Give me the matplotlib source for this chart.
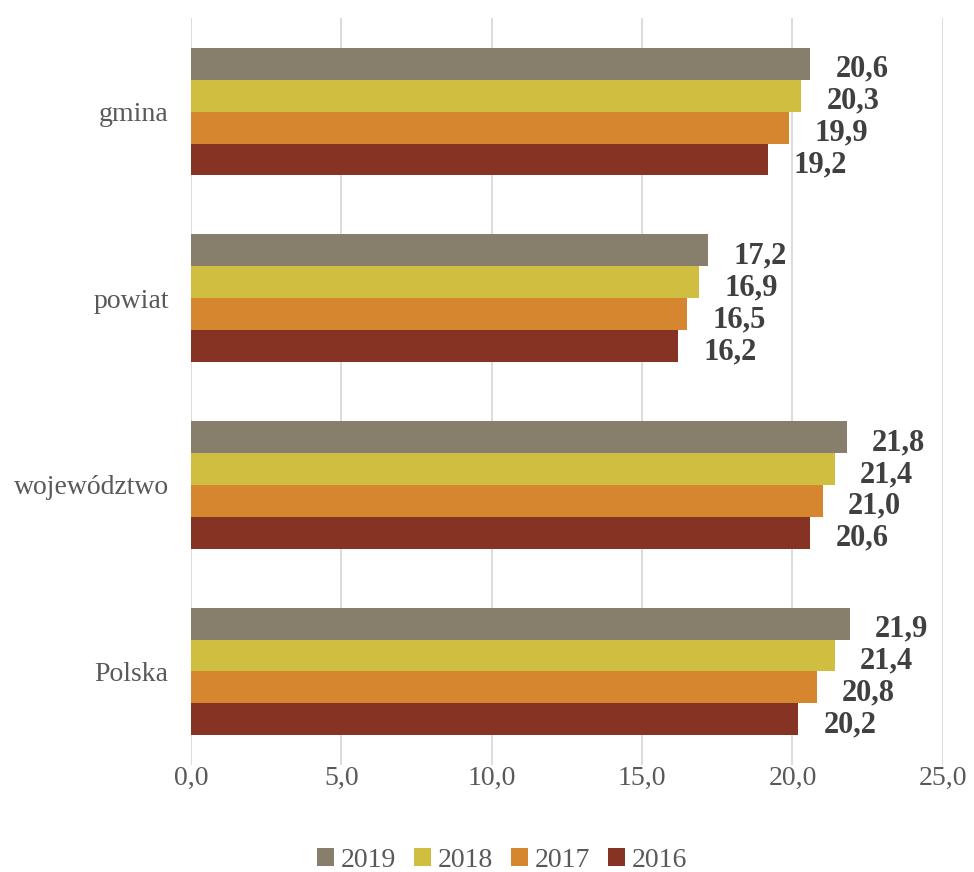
import numpy as np
import matplotlib.pyplot as plt

categories = ["gmina", "powiat", "województwo", "Polska"]
years = ["2019", "2018", "2017", "2016"]
v2019 = [20.6, 17.2, 21.8, 21.9]
v2018 = [20.3, 16.9, 21.4, 21.4]
v2017 = [19.9, 16.5, 21.0, 20.8]
v2016 = [19.2, 16.2, 20.6, 20.2]
colors = ["#877F6C", "#D0BE40", "#D5862E", "#873324"]

series = [v2019, v2018, v2017, v2016]

plt.rcParams['font.family'] = ['Liberation Serif', 'DejaVu Serif']

fig = plt.figure(figsize=(9.74, 8.72), dpi=100)
ax = fig.add_axes([0.196, 0.123, 0.772, 0.856])

h = 0.171
y = np.arange(len(categories))
for i, (vals, col, yr) in enumerate(zip(series, colors, years)):
    pos = y - 1.5 * h + i * h
    ax.barh(pos, vals, height=h, color=col, label=yr, zorder=3)
    for p, v in zip(pos, vals):
        ax.annotate(f"{v:.1f}".replace(".", ","), xy=(v, p), xytext=(18, -4),
                    textcoords="offset points", va="center", ha="left",
                    fontsize=22, fontweight="bold", color="#404040")

ax.set_xlim(0, 25)
ax.set_ylim(3.5, -0.5)
ax.set_xticks(np.arange(0, 26, 5))
ax.set_xticklabels([f"{t:.1f}".replace(".", ",") for t in np.arange(0, 26, 5)])
ax.set_yticks(y)
ax.set_yticklabels(categories)
ax.tick_params(axis="both", length=0, labelsize=20, labelcolor="#595959")
ax.tick_params(axis="y", pad=16)
ax.tick_params(axis="x", pad=1)
ax.grid(axis="x", color="#D9D9D9", linewidth=1.3, zorder=0)
for s in ax.spines.values():
    s.set_visible(False)

ax.legend(loc="center", bbox_to_anchor=(0.414, -0.128), ncol=4, frameon=False,
          fontsize=20, labelcolor="#595959", handlelength=0.6, handleheight=0.6,
          handletextpad=0.25, columnspacing=0.65)

fig.savefig("out.png", dpi=100)
